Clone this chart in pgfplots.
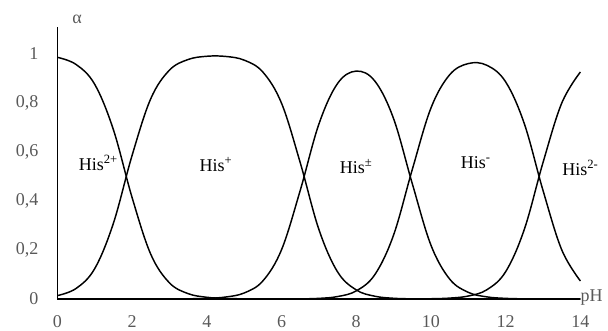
\documentclass[border=0pt]{standalone}
\usepackage{pgfplots}
\pgfplotsset{compat=1.18}
\usepackage{pgfplotstable}
\usepackage{fontspec}
\setmainfont{Liberation Serif}
\definecolor{ticktext}{RGB}{89,89,89}

% species fractions of histidine vs pH
\pgfplotstableread{
pH   a0     a1     a2     a3     a4
0    0.9861 0.0139 0      0      0
0.5  0.9572 0.0428 0      0      0
1    0.8762 0.1238 0      0      0
1.5  0.6912 0.3088 0      0      0
2    0.4145 0.5855 0      0      0
2.5  0.1829 0.8171 0      0      0
3    0.0661 0.9337 0.0002 0      0
3.5  0.0219 0.9773 0.0008 0      0
4    0.0070 0.9905 0.0025 0      0
4.5  0.0022 0.9899 0.0079 0      0
5    0.0007 0.9748 0.0245 0      0
5.5  0.0002 0.9262 0.0736 0      0
6    0      0.7992 0.2007 0.0001 0
6.5  0      0.5570 0.4425 0.0005 0
7    0      0.2840 0.7134 0.0025 0
7.5  0      0.1107 0.8794 0.0099 0
8    0      0.0370 0.9300 0.0330 0
8.5  0      0.0112 0.8890 0.0998 0
9    0      0.0029 0.7359 0.2611 0
9.5  0      0.0006 0.4709 0.5283 0.0002
10   0      0.0001 0.2196 0.7793 0.0010
10.5 0      0      0.0815 0.9149 0.0036
11   0      0      0.0271 0.9608 0.0121
11.5 0      0      0.0085 0.9535 0.0380
12   0      0      0.0025 0.8859 0.1115
12.5 0      0      0.0006 0.7148 0.2846
13   0      0      0.0001 0.4426 0.5572
13.5 0      0      0      0.2008 0.7992
14   0      0      0      0.0736 0.9264
}\fractions

\begin{document}
\fontsize{13.5}{16}\selectfont
\begin{tikzpicture}
\path[use as bounding box] (-43pt,-24pt) rectangle (413pt,224.25pt);
\begin{axis}[
  anchor=origin, at={(0,0)},
  scale only axis,
  width=392.3pt, height=204pt,
  xmin=0, xmax=14, ymin=0, ymax=1.11,
  axis x line=bottom, axis y line=left,
  axis line style={-, line width=1.1pt, black},
  major tick length=0pt,
  xtick={0,2,...,14},
  xticklabels={0,2,4,6,8,10,12,14},
  ytick={0,0.2,0.4,0.6,0.8,1},
  yticklabels={0,{0,2},{0,4},{0,6},{0,8},1},
  xticklabel style={anchor=base, inner sep=0pt, yshift=-21.5pt, text=ticktext},
  yticklabel style={anchor=east, inner sep=0pt, xshift=-14pt, text=ticktext},
  clip=false,
]
\addplot[black, line width=1.1pt, smooth, tension=0.6] table[x=pH, y=a0] {\fractions};
\addplot[black, line width=1.1pt, smooth, tension=0.6] table[x=pH, y=a1] {\fractions};
\addplot[black, line width=1.1pt, smooth, tension=0.6] table[x=pH, y=a2] {\fractions};
\addplot[black, line width=1.1pt, smooth, tension=0.6] table[x=pH, y=a3] {\fractions};
\addplot[black, line width=1.1pt, smooth, tension=0.6] table[x=pH, y=a4] {\fractions};

\node at (axis cs:1.1,0.555) {His\textsuperscript{2+}};
\node at (axis cs:4.25,0.55) {His\textsuperscript{+}};
\node at (axis cs:8.0,0.54) {His\textsuperscript{±}};
\node at (axis cs:11.2,0.555) {His\textsuperscript{-}};
\node at (axis cs:14.0,0.535) {His\textsuperscript{2-}};

\node[text=ticktext, anchor=west, inner sep=0pt] at (axis cs:14,0.005) {pH};
\node[text=ticktext] at (axis cs:0.53,1.14) {α};
\end{axis}
\end{tikzpicture}
\end{document}
